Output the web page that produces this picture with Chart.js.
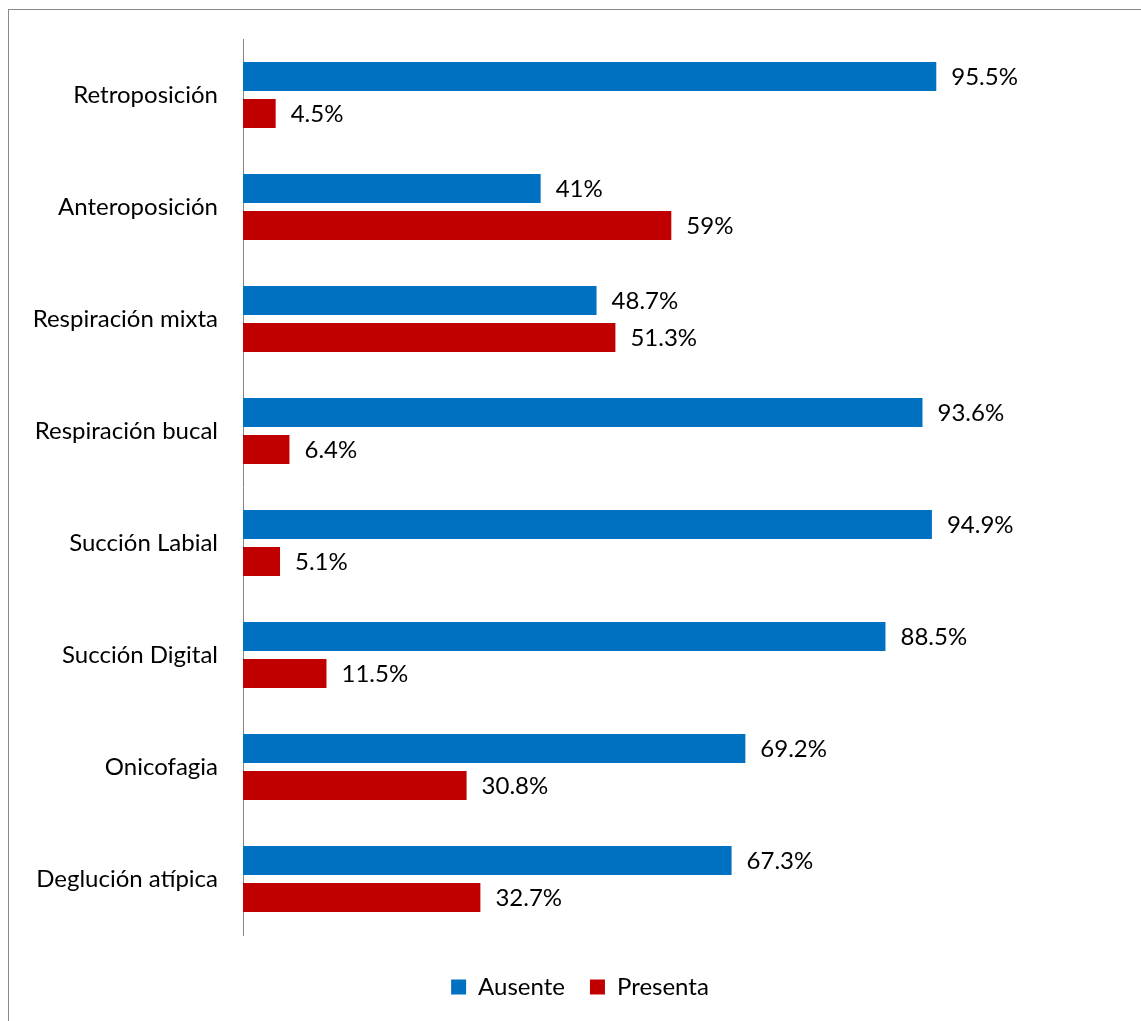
<!DOCTYPE html>
<html>
<head>
<meta charset="utf-8">
<script src="https://cdn.jsdelivr.net/npm/chart.js@4/dist/chart.umd.min.js"></script>
<style>
  html, body { margin: 0; padding: 0; background: #fff; overflow: hidden; }
  #frame {
    position: absolute; left: 8px; top: 9px;
    width: 2000px; height: 2000px;
    border-top: 1px solid #8a8a8a; border-left: 1px solid #8a8a8a;
  }
  #habitsChart { position: absolute; left: 0; top: 0; }
</style>
</head>
<body>
<div id="frame"></div>
<canvas id="habitsChart" width="1141" height="1021"></canvas>
<script>
const categories = [
    'Retroposición',
    'Anteroposición',
    'Respiración mixta',
    'Respiración bucal',
    'Succión Labial',
    'Succión Digital',
    'Onicofagia',
    'Deglución atípica'
];
const ausente = [95.5, 41, 48.7, 93.6, 94.9, 88.5, 69.2, 67.3];
const presenta = [4.5, 59, 51.3, 6.4, 5.1, 11.5, 30.8, 32.7];

const fontFamily = 'Lato, "Open Sans", sans-serif';
const fontSize = 24;

// value labels to the right of every bar
const barLabels = {
    id: 'barLabels',
    afterDatasetsDraw(chart) {
        const ctx = chart.ctx;
        ctx.save();
        ctx.font = fontSize + 'px ' + fontFamily;
        ctx.fillStyle = '#000';
        ctx.textAlign = 'left';
        ctx.textBaseline = 'middle';
        chart.data.datasets.forEach((ds, i) => {
            const meta = chart.getDatasetMeta(i);
            meta.data.forEach((bar, j) => {
                ctx.fillText(ds.data[j] + '%', bar.x + 15, bar.y + 1);
            });
        });
        ctx.restore();
    }
};

const ctx = document.getElementById('habitsChart');
const chart = new Chart(ctx, {
    type: 'bar',
    data: {
        labels: categories,
        datasets: [{
            label: 'Ausente',
            data: ausente,
            backgroundColor: '#0070C0',
            borderWidth: 0
        }, {
            label: 'Presenta',
            data: presenta,
            backgroundColor: '#C00000',
            borderWidth: 0
        }]
    },
    options: {
        indexAxis: 'y',
        responsive: false,
        animation: false,
        devicePixelRatio: 1,
        categoryPercentage: 0.66,
        barPercentage: 0.784,
        layout: {
            padding: { left: 19, top: 39, right: 0, bottom: 12 }
        },
        scales: {
            x: {
                min: 0,
                // leaves room on the right for the value labels
                max: 123.7,
                ticks: { display: false },
                grid: { display: false },
                border: { display: false },
                afterFit: function(scale) {
                    scale.height = 15;
                }
            },
            y: {
                grid: { display: false },
                border: { color: '#868686', width: 1 },
                ticks: {
                    padding: 17,
                    color: '#000',
                    font: { size: fontSize, family: fontFamily }
                },
                afterFit: function(scale) {
                    scale.width = 224;
                }
            }
        },
        plugins: {
            legend: {
                position: 'bottom',
                labels: {
                    boxWidth: 15,
                    boxHeight: 15,
                    padding: 25,
                    color: '#000',
                    font: { size: fontSize, family: fontFamily }
                }
            },
            tooltip: { enabled: false }
        }
    },
    plugins: [barLabels]
});
</script>
</body>
</html>
